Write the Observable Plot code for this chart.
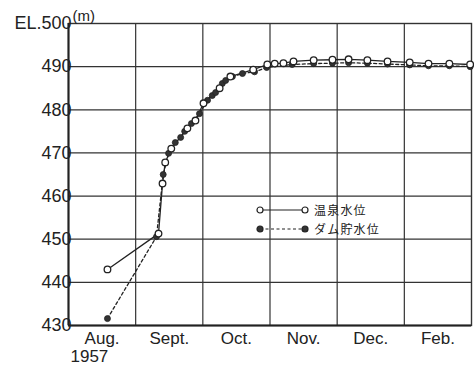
<!DOCTYPE html>
<html>
<head>
<meta charset="utf-8">
<script src="https://cdn.jsdelivr.net/npm/d3@7"></script>
<script src="https://cdn.jsdelivr.net/npm/@observablehq/plot@0.6"></script>
<style>
  html, body { margin: 0; padding: 0; background: #fff; }
  #wrap { position: relative; width: 474px; height: 367px; overflow: hidden; }
  #legend { position: absolute; left: 254px; top: 200px; font-family: "Noto Sans CJK JP", sans-serif; font-size: 12px; letter-spacing: 1.2px; color: #222; }
  #legend .row { display: flex; align-items: center; height: 19px; }
  #legend svg { margin-right: 4px; }
</style>
</head>
<body>
<div id="wrap"><div id="legend"></div></div>
<script>
// Month columns: gridlines at month boundaries (0..6), labels centered in columns
const monthLabels = ["Aug.", "Sept.", "Oct.", "Nov.", "Dec.", "Feb."];
const monthBounds = [0, 1, 2, 3, 4, 5, 6];
const yTicks = [430, 440, 450, 460, 470, 480, 490, 500];

// 温泉水位 (hot spring water level), x in month units from start of Aug column
const springX = [0.58, 1.34, 1.40, 1.44, 1.53, 1.77, 1.89, 2.01, 2.25, 2.41, 2.75, 2.96, 3.07, 3.20, 3.35, 3.65, 3.93, 4.17, 4.45, 4.75, 5.08, 5.36, 5.67, 5.98];
const springY = [443.0, 451.3, 462.9, 467.8, 471.0, 475.7, 477.5, 481.5, 485.0, 487.7, 489.3, 490.5, 490.7, 490.8, 491.2, 491.5, 491.6, 491.7, 491.5, 491.2, 491.0, 490.7, 490.7, 490.5];

// ダム貯水位 (reservoir water level)
const damX = [0.58, 1.31, 1.41, 1.49, 1.59, 1.67, 1.73, 1.83, 1.95, 2.07, 2.14, 2.19, 2.29, 2.34, 2.44, 2.59, 2.77, 2.95, 3.33, 3.65, 3.93, 4.17, 4.45, 4.75, 5.08, 5.36, 5.67, 5.98];
const damY = [431.6, 450.6, 465.0, 469.9, 472.4, 473.6, 475.0, 476.8, 479.1, 482.2, 483.3, 484.0, 486.1, 486.8, 487.7, 488.4, 488.8, 489.8, 490.5, 490.7, 490.8, 490.9, 490.8, 490.6, 490.4, 490.2, 490.2, 490.0];

const spring = springX.map((x, i) => ({x, y: springY[i]}));
const dam = damX.map((x, i) => ({x, y: damY[i]}));
const labelPos = monthLabels.map((_, i) => i + 0.5);

const chart = Plot.plot({
  width: 474,
  height: 367,
  marginLeft: 68,
  marginRight: 3,
  marginTop: 23,
  marginBottom: 42,
  style: { fontFamily: "Liberation Sans, Arial, sans-serif", background: "#fff", color: "#222" },
  x: { domain: [0, 6] },
  y: { domain: [430, 500] },
  marks: [
    Plot.ruleX(monthBounds.slice(1, -1), { stroke: "#333", strokeWidth: 1.2 }),
    Plot.ruleY(yTicks.slice(1, -1), { stroke: "#333", strokeWidth: 1.2 }),
    Plot.frame({ stroke: "#333", strokeWidth: 1.4 }),
    Plot.ruleX([0], { stroke: "#222", strokeWidth: 2 }),
    Plot.ruleY([430], { stroke: "#222", strokeWidth: 2 }),
    Plot.axisY({ ticks: yTicks, tickSize: 0, tickPadding: -3, fontSize: 18,
      tickFormat: d => d === 500 ? "EL.500" : String(d), label: null }),
    Plot.axisX({ ticks: labelPos, tickSize: 0, tickPadding: 6, fontSize: 17,
      tickFormat: (d, i) => monthLabels[i], label: null }),
    Plot.text(["(m)"], { frameAnchor: "top-left", dx: 4, dy: -13, textAnchor: "start", fontSize: 15, fill: "#222" }),
    Plot.text(["1957"], { frameAnchor: "bottom-left", dx: 2, dy: 36, textAnchor: "start", fontSize: 17, fill: "#222" }),
    Plot.line(dam, { x: "x", y: "y", stroke: "#222", strokeWidth: 1.3, strokeDasharray: "3,2.5" }),
    Plot.line(spring, { x: "x", y: "y", stroke: "#222", strokeWidth: 1.3 }),
    Plot.dot(dam, { x: "x", y: "y", r: 3, fill: "#333", stroke: "#222", strokeWidth: 0.8 }),
    Plot.dot(spring, { x: "x", y: "y", r: 3.3, fill: "#fff", stroke: "#222", strokeWidth: 1.3 })
  ]
});
document.getElementById("wrap").prepend(chart);
chart.style.position = "absolute"; chart.style.left = "0"; chart.style.top = "0";

// legend
const legendItems = [
  { label: "温泉水位", fill: "#fff", dash: null },
  { label: "ダム貯水位", fill: "#333", dash: "3,2.5" }
];
const lg = document.getElementById("legend");
legendItems.forEach(it => {
  const row = document.createElement("div");
  row.className = "row";
  row.innerHTML = `<svg width="56" height="12"><line x1="6" x2="51" y1="6" y2="6" stroke="#222" stroke-width="1.2" ${it.dash ? `stroke-dasharray="${it.dash}"` : ""}/>
    <circle cx="6" cy="6" r="3" fill="${it.fill}" stroke="#222" stroke-width="1.2"/>
    <circle cx="51" cy="6" r="3" fill="${it.fill}" stroke="#222" stroke-width="1.2"/></svg><span>${it.label}</span>`;
  lg.appendChild(row);
});
</script>
</body>
</html>
